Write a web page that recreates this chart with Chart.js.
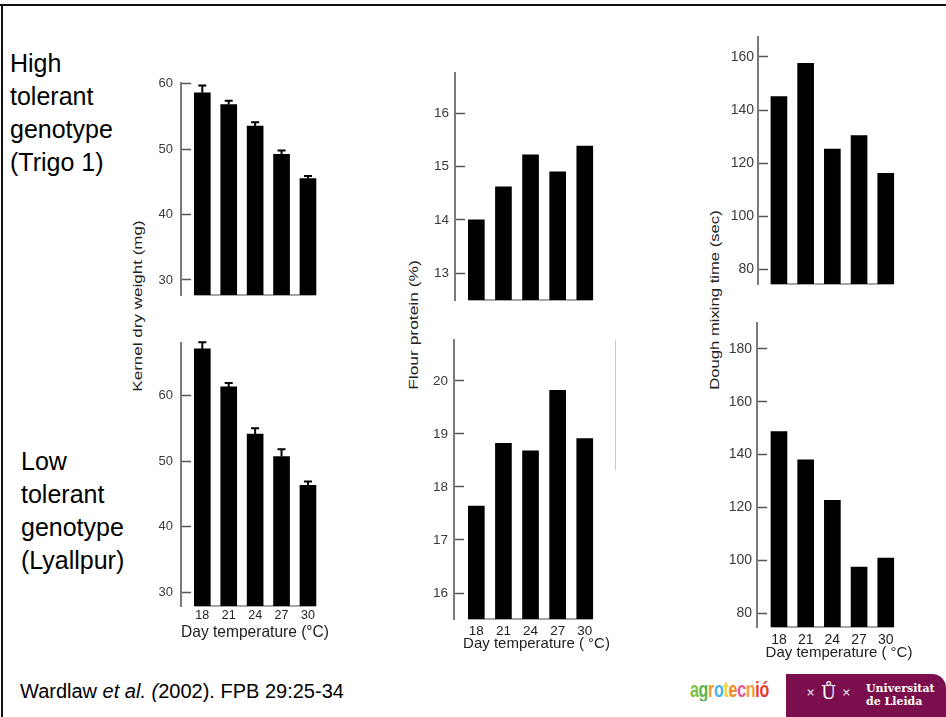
<!DOCTYPE html>
<html>
<head>
<meta charset="utf-8">
<script src="https://cdn.jsdelivr.net/npm/chart.js@4/dist/chart.umd.min.js"></script>
<style>
  html, body { margin: 0; padding: 0; background: #fff; }
  body { width: 946px; height: 717px; position: relative; overflow: hidden;
         font-family: "Liberation Sans", Arial, sans-serif; color: #000; }
  canvas { position: absolute; }
  .frame-top { position: absolute; left: 0; top: 4px; width: 946px; height: 2px; background: #111; }
  .frame-left { position: absolute; left: 1px; top: 4px; width: 2px; height: 713px; background: #111; }
  .genotype { position: absolute; font-size: 25px; line-height: 33px; }
  .ytitle { position: absolute; width: 240px; height: 16px; line-height: 16px; font-size: 13px;
            text-align: center; color: #222; white-space: nowrap; }
  .cite { position: absolute; left: 20px; top: 679px; font-size: 20px; line-height: 24px; }
  .agro { position: absolute; left: 690px; top: 678px; font-size: 16px; font-weight: bold;
          letter-spacing: -0.3px; transform: scaleY(1.35); transform-origin: left top; }
  .udl { position: absolute; left: 786px; top: 674px; width: 160px; height: 43px;
         background: #7b0f4e; border-top-right-radius: 14px; color: #fff; }
  .udl .mark { position: absolute; left: 20px; top: 8px; font-size: 18px; font-family: "DejaVu Serif", serif; }
  .udl .mark small { font-size: 11px; vertical-align: 3px; }
  .udl .name { position: absolute; left: 80px; top: 8px; font-size: 11px; line-height: 13px;
               font-weight: bold; font-family: "DejaVu Serif", "Liberation Serif", serif; }
  .rule { position: absolute; left: 615px; top: 340px; width: 1px; height: 130px; background: #c8c8c8; }
</style>
</head>
<body>
<div class="frame-top"></div>
<div class="frame-left"></div>

<div class="genotype" style="left:10px; top:47px;">High<br>tolerant<br>genotype<br>(Trigo 1)</div>
<div class="genotype" style="left:21px; top:445px;">Low<br>tolerant<br>genotype<br>(Lyallpur)</div>

<div class="ytitle" style="left:18px; top:298px; transform: rotate(-90deg) scaleX(1.31);">Kernel dry weight (mg)</div>
<div class="ytitle" style="left:294px; top:317px; transform: rotate(-90deg) scaleX(1.34);">Flour protein (%)</div>
<div class="ytitle" style="left:595px; top:292px; transform: rotate(-90deg) scaleX(1.28);">Dough mixing time (sec)</div>

<div class="rule"></div>

<canvas id="kernelHigh"></canvas>
<canvas id="kernelLow"></canvas>
<canvas id="proteinHigh"></canvas>
<canvas id="proteinLow"></canvas>
<canvas id="mixingHigh"></canvas>
<canvas id="mixingLow"></canvas>

<div class="cite">Wardlaw <i>et al.</i> <i>(</i>2002). FPB 29:25-34</div>
<div class="agro"><span style="color:#7cc242">a</span><span style="color:#5ab44a">g</span><span style="color:#f29a2e">r</span><span style="color:#40b4e5">o</span><span style="color:#f6d330">t</span><span style="color:#f08a24">e</span><span style="color:#e9558f">c</span><span style="color:#f3a33a">n</span><span style="color:#e53a2f">ió</span></div>
<div class="udl">
  <div class="mark"><small>&times;</small> Ů <small>&times;</small></div>
  <div class="name">Universitat<br>de Lleida</div>
</div>

<script>
// day temperatures (°C) shared by every panel
var temps = [18, 21, 24, 27, 30];

// kernel dry weight (mg), bar tops and upper error limits
var kernelTrigo = [58.6, 56.8, 53.5, 49.2, 45.5];
var kernelTrigoErr = [59.7, 57.4, 54.1, 49.8, 45.9];
var kernelLyallpur = [67.1, 61.3, 54.1, 50.7, 46.3];
var kernelLyallpurErr = [68.1, 61.9, 55.0, 51.8, 46.9];
var kernelTicks = [30, 40, 50, 60];

// flour protein (%)
var proteinTrigo = [14.0, 14.62, 15.22, 14.9, 15.38];
var proteinLyallpur = [17.64, 18.82, 18.68, 19.82, 18.91];
var proteinTrigoTicks = [13, 14, 15, 16];
var proteinLyallpurTicks = [16, 17, 18, 19, 20];

// dough mixing time (sec)
var mixingTrigo = [145.1, 157.6, 125.3, 130.4, 116.2];
var mixingLyallpur = [148.7, 138.0, 122.7, 97.5, 100.9];
var mixingTrigoTicks = [80, 100, 120, 140, 160];
var mixingLyallpurTicks = [80, 100, 120, 140, 160, 180];

var FONT = '"Liberation Sans", Arial, sans-serif';

// thin grey base line running under the bars only
var baseLine = {
	id: 'baseLine',
	beforeDatasetsDraw: function(chart) {
		var bars = chart.getDatasetMeta(0).data;
		if (!bars.length) return;
		var first = bars[0], last = bars[bars.length - 1];
		var ctx = chart.ctx;
		ctx.save();
		ctx.strokeStyle = '#8a8a8a';
		ctx.lineWidth = 1.5;
		ctx.beginPath();
		ctx.moveTo(first.x - first.width / 2, chart.chartArea.bottom);
		ctx.lineTo(last.x + last.width / 2, chart.chartArea.bottom);
		ctx.stroke();
		ctx.restore();
	}
};

// one-sided error bars (upper limit only)
var errorCaps = {
	id: 'errorCaps',
	afterDatasetsDraw: function(chart) {
		var ds = chart.data.datasets[0];
		if (!ds.errUpper) return;
		var yScale = chart.scales.y;
		var ctx = chart.ctx;
		ctx.save();
		ctx.strokeStyle = '#000';
		ctx.lineWidth = 2;
		chart.getDatasetMeta(0).data.forEach(function(bar, i) {
			var top = yScale.getPixelForValue(ds.errUpper[i]);
			ctx.beginPath();
			ctx.moveTo(bar.x, bar.y);
			ctx.lineTo(bar.x, top);
			ctx.moveTo(bar.x - 4, top);
			ctx.lineTo(bar.x + 4, top);
			ctx.stroke();
		});
		ctx.restore();
	}
};

function makePanel(id, values, p) {
	var yw = 60, padTop = 10, padRight = 4;
	var titleSize = p.titleSize || 15;
	var xh = p.title ? Math.round(p.titleY + titleSize * 0.6 - p.area.b) : 4;

	var cv = document.getElementById(id);
	cv.width = p.area.r - p.area.l + yw + padRight;
	cv.height = p.area.b + xh - p.area.t + padTop;
	cv.style.left = (p.area.l - yw) + 'px';
	cv.style.top = (p.area.t - padTop) + 'px';
	cv.style.width = cv.width + 'px';
	cv.style.height = cv.height + 'px';

	var points = temps.map(function(t, i) { return { x: t, y: values[i] }; });

	return new Chart(cv, {
		type: 'bar',
		data: {
			datasets: [{
				data: points,
				errUpper: p.err || null,
				backgroundColor: '#000',
				borderWidth: 0,
				barThickness: 16
			}]
		},
		plugins: [baseLine, errorCaps],
		options: {
			responsive: false,
			animation: false,
			events: [],
			layout: { autoPadding: false, padding: { top: padTop, right: padRight, left: 0, bottom: 0 } },
			plugins: { legend: { display: false }, tooltip: { enabled: false } },
			scales: {
				x: {
					type: 'linear',
					offset: false,
					min: p.xMin,
					max: p.xMax,
					afterBuildTicks: function(s) {
						s.ticks = temps.map(function(v) { return { value: v }; });
					},
					afterFit: function(s) {
						s.height = xh;
						s.paddingLeft = 0;
						s.paddingRight = 0;
					},
					grid: { display: false, drawTicks: false },
					border: { display: false },
					ticks: {
						display: !!p.title,
						autoSkip: false,
						maxRotation: 0,
						padding: p.xPad || 0,
						color: '#222',
						font: { family: FONT, size: p.xFont || p.font }
					},
					title: {
						display: !!p.title,
						text: p.title || '',
						color: '#222',
						padding: 0,
						font: { family: FONT, size: titleSize }
					}
				},
				y: {
					min: p.yMin,
					max: p.yMax,
					afterBuildTicks: function(s) {
						s.ticks = p.ticks.map(function(v) { return { value: v }; });
					},
					afterFit: function(s) {
						s.width = yw;
						s.paddingTop = 0;
						s.paddingBottom = 0;
					},
					border: { display: true, color: '#7a7a7a', width: 2 },
					grid: {
						drawOnChartArea: false,
						drawTicks: true,
						tickLength: -10,
						tickWidth: 1.5,
						tickColor: '#555'
					},
					ticks: {
						padding: p.yPad,
						color: '#3a3a3a',
						font: { family: FONT, size: p.font }
					}
				}
			}
		}
	});
}

makePanel('kernelHigh', kernelTrigo, {
	area: { l: 181, t: 83, r: 318, b: 295 },
	yMin: 27.7, yMax: 60.1, ticks: kernelTicks, xMin: 15.58, xMax: 31.14,
	font: 13, yPad: 18, err: kernelTrigoErr
});
makePanel('kernelLow', kernelLyallpur, {
	area: { l: 181, t: 343, r: 329, b: 606 },
	yMin: 27.9, yMax: 68.0, ticks: kernelTicks, xMin: 15.58, xMax: 32.39,
	font: 13, xFont: 12.5, yPad: 18, xPad: 2, err: kernelLyallpurErr,
	title: 'Day temperature (\u00b0C)', titleY: 632, titleSize: 16.5
});
makePanel('proteinHigh', proteinTrigo, {
	area: { l: 455, t: 73, r: 595, b: 300 },
	yMin: 12.5, yMax: 16.75, ticks: proteinTrigoTicks, xMin: 15.64, xMax: 31.13,
	font: 13.5, yPad: 16
});
makePanel('proteinLow', proteinLyallpur, {
	area: { l: 454, t: 340, r: 619, b: 619 },
	yMin: 15.51, yMax: 20.77, ticks: proteinLyallpurTicks, xMin: 15.53, xMax: 33.79,
	font: 13.5, yPad: 16, xPad: 4,
	title: 'Day temperature ( \u00b0C)', titleY: 644
});
makePanel('mixingHigh', mixingTrigo, {
	area: { l: 758, t: 37, r: 896, b: 284 },
	yMin: 74.5, yMax: 167.5, ticks: mixingTrigoTicks, xMin: 15.65, xMax: 31.15,
	font: 14, yPad: 14
});
makePanel('mixingLow', mixingLyallpur, {
	area: { l: 757, t: 323, r: 921, b: 627 },
	yMin: 74.9, yMax: 189.7, ticks: mixingLyallpurTicks, xMin: 15.53, xMax: 33.96,
	font: 14, yPad: 15, xPad: 5,
	title: 'Day temperature ( \u00b0C)', titleY: 653
});
</script>
</body>
</html>
